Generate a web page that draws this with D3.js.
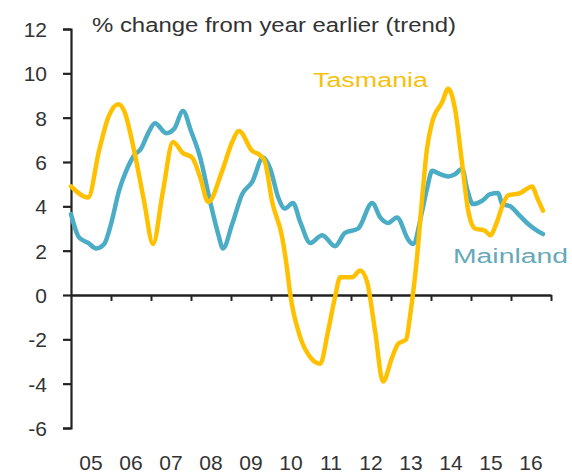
<!DOCTYPE html>
<html>
<head>
<meta charset="utf-8">
<script src="https://cdn.jsdelivr.net/npm/d3@7"></script>
<style>
body{margin:0;background:#fff;}
svg{display:block;}
.tick text{font-family:"Liberation Sans",Arial,sans-serif;}
</style>
</head>
<body>
<svg id="chart" width="572" height="475"></svg>
<script>
// year labels under the zero line
var years=[2005,2006,2007,2008,2009,2010,2011,2012,2013,2014,2015,2016];
var yTicks=[-6,-4,-2,0,2,4,6,8,10,12];

// Tasmania, % change from year earlier (trend)
var tasDates=[2005.00,2005.43,2005.70,2005.93,2006.18,2006.33,2006.58,2006.83,2007.05,2007.30,2007.55,2007.80,
              2008.03,2008.23,2008.43,2008.78,2009.03,2009.20,2009.53,2009.73,2009.85,2010.03,2010.28,2010.40,
              2010.48,2010.73,2010.98,2011.23,2011.43,2011.60,2011.73,2012.03,2012.23,2012.40,2012.60,2012.80,
              2013.03,2013.18,2013.38,2013.48,2013.65,2013.78,2013.90,2014.03,2014.28,2014.43,2014.60,2014.78,
              2014.93,2015.10,2015.35,2015.48,2015.65,2015.80,2015.93,2016.23,2016.53,2016.65,2016.80];
var tasValues=[4.9,4.4,6.5,8.0,8.6,8.3,6.5,4.2,2.3,4.7,6.9,6.4,
               6.2,5.3,4.2,5.6,6.9,7.4,6.5,6.3,6.0,4.2,2.6,1.2,
               0.05,-1.9,-2.8,-3.1,-1.6,-0.1,0.8,0.8,1.1,0.6,-1.6,-3.9,
               -2.8,-2.2,-2.0,-0.9,1.7,4.4,6.6,7.8,8.7,9.3,8.4,5.9,
               3.8,3.0,2.9,2.7,3.3,4.1,4.5,4.6,4.9,4.4,3.8];

// Mainland
var mainDates=[2005.00,2005.20,2005.43,2005.63,2005.83,2006.00,2006.20,2006.38,2006.58,2006.75,2006.93,2007.10,
               2007.38,2007.58,2007.80,2008.00,2008.23,2008.48,2008.68,2008.80,2009.03,2009.28,2009.53,2009.80,
               2009.98,2010.18,2010.35,2010.55,2010.73,2010.98,2011.28,2011.60,2011.85,2012.18,2012.53,2012.73,
               2012.93,2013.15,2013.43,2013.55,2013.78,2013.90,2014.03,2014.23,2014.43,2014.60,2014.78,2014.90,
               2015.05,2015.28,2015.48,2015.68,2015.78,2015.98,2016.18,2016.43,2016.65,2016.80];
var mainValues=[3.65,2.6,2.35,2.1,2.3,3.2,4.7,5.6,6.3,6.6,7.3,7.75,
                7.3,7.5,8.3,7.4,6.2,4.2,2.75,2.1,3.2,4.55,5.1,6.2,
                5.7,4.4,3.9,4.15,3.3,2.35,2.7,2.2,2.8,3.0,4.15,3.5,
                3.25,3.5,2.5,2.3,3.8,4.8,5.6,5.45,5.35,5.45,5.7,4.8,
                4.1,4.25,4.55,4.6,4.1,4.0,3.65,3.2,2.9,2.75];

var tasColor="#FFC000", mainColor="#4BACC6";
var font='"Liberation Sans",Arial,sans-serif';

var svg=d3.select("#chart");
var x=d3.scaleLinear().domain([2005,2017]).range([71,551]);
var y=d3.scaleLinear().domain([-6,12]).range([428,29]);

// y axis (plain hyphen for negatives, like the original)
var yAxis=svg.append("g").attr("transform","translate(71,0)")
    .call(d3.axisLeft(y).tickValues(yTicks).tickSize(8).tickSizeOuter(8).tickPadding(16).tickFormat(function(d){return String(d);}));
yAxis.select(".domain").attr("stroke","#222").attr("stroke-width",2.2);
yAxis.selectAll(".tick line").attr("stroke","#222").attr("stroke-width",2.2);
yAxis.selectAll(".tick text").attr("fill","#333").style("font-size","21px").attr("dy","0.36em");

// zero line with year ticks
var xAxis=svg.append("g").attr("transform","translate(0,"+y(0)+")")
    .call(d3.axisBottom(x).tickValues(d3.range(2006,2018)).tickSize(6).tickSizeOuter(0).tickFormat(""));
xAxis.select(".domain").attr("stroke","#222").attr("stroke-width",2.6);
xAxis.selectAll(".tick line").attr("stroke","#222").attr("stroke-width",2);

svg.append("g").selectAll("text").data(years).enter().append("text")
    .attr("x",function(d){return x(d+0.5);}).attr("y",470)
    .attr("text-anchor","middle").attr("fill","#333")
    .style("font-family",font).style("font-size","21px")
    .text(function(d){return String(d).slice(2);});

// lines
var line=d3.line().curve(d3.curveMonotoneX)
    .x(function(d){return x(d[0]);}).y(function(d){return y(d[1]);});

svg.append("path").datum(d3.zip(mainDates,mainValues))
    .attr("d",line).attr("fill","none").attr("stroke",mainColor)
    .attr("stroke-width",4.5).attr("stroke-linejoin","round").attr("stroke-linecap","round");

svg.append("path").datum(d3.zip(tasDates,tasValues))
    .attr("d",line).attr("fill","none").attr("stroke",tasColor)
    .attr("stroke-width",4.5).attr("stroke-linejoin","round").attr("stroke-linecap","round");

// title + series labels
svg.append("text").attr("x",92).attr("y",32)
    .attr("textLength",364).attr("lengthAdjust","spacingAndGlyphs")
    .attr("fill","#333").style("font-family",font).style("font-size","20px")
    .text("% change from year earlier (trend)");

svg.append("text").attr("x",313).attr("y",87)
    .attr("textLength",115).attr("lengthAdjust","spacingAndGlyphs")
    .attr("fill","#F4C20D").style("font-family",font).style("font-size","20px")
    .text("Tasmania");

svg.append("text").attr("x",453).attr("y",263)
    .attr("textLength",115).attr("lengthAdjust","spacingAndGlyphs")
    .attr("fill","#66A9B8").style("font-family",font).style("font-size","20px")
    .text("Mainland");
</script>
</body>
</html>
